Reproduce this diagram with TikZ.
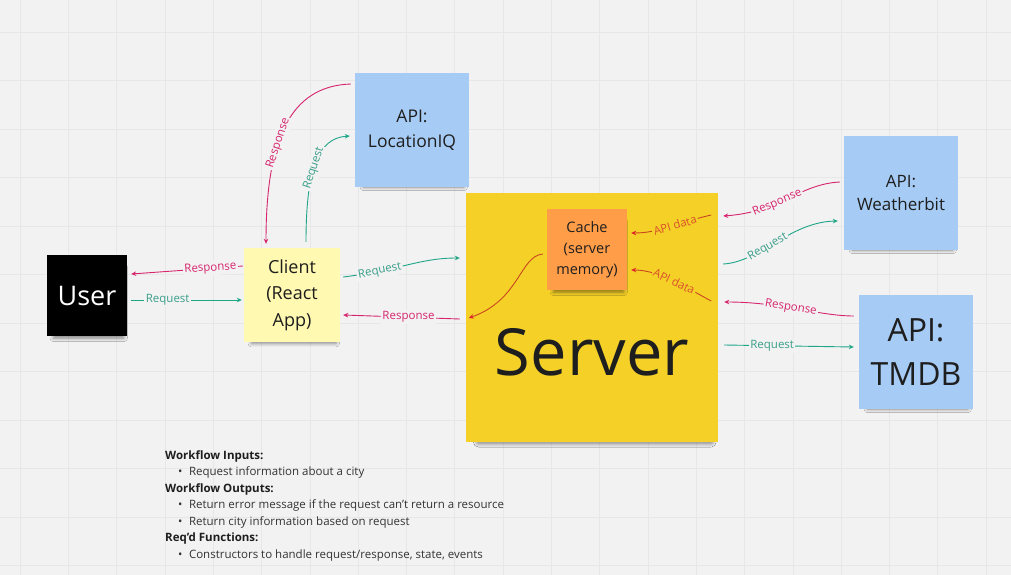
\documentclass[tikz,border=0pt]{standalone}
\usepackage{fontspec}
\setmainfont{Open Sans}
\usetikzlibrary{arrows.meta,shadows.blur}
\definecolor{bg}{HTML}{F2F2F2}
\definecolor{gridc}{HTML}{E7E7E7}
\definecolor{bluenote}{HTML}{A6CCF5}
\definecolor{palenote}{HTML}{FFF9B1}
\definecolor{yellownote}{HTML}{F5D128}
\definecolor{orangenote}{HTML}{FF9D48}
\definecolor{pinkc}{HTML}{D6246E}
\definecolor{greenc}{HTML}{1FA687}
\definecolor{greent}{HTML}{3A9E8A}
\definecolor{apic}{HTML}{C9471F}
\definecolor{apit}{HTML}{D9502A}
\definecolor{apitip}{HTML}{E0202A}
\definecolor{inkc}{HTML}{1E1E1E}
\definecolor{bodyc}{HTML}{333333}
\begin{document}
\begin{tikzpicture}[x=1pt,y=-1pt,
  sticky/.style={draw=none, align=center, inner sep=0pt, text=inkc,
    blur shadow={shadow xshift=2pt, shadow yshift=-8pt, shadow blur radius=4pt, shadow opacity=45, shadow scale=0.88}},
  gridline/.style={draw=gridc, line width=0.6pt},
  conn/.style={line width=0.9pt},
  tipS/.style={-{Stealth[length=5pt,width=4.5pt]}},
  resp/.style={conn, tipS, draw=pinkc},
  reqs/.style={conn, tipS, draw=greenc},
  apid/.style={conn, -{Stealth[length=5pt,width=4.5pt,color=apitip]}, draw=apic},
  lbl/.style={font=\fontsize{11.5}{13}\selectfont, inner sep=1.5pt, fill=bg},
  rlbl/.style={lbl, text=pinkc},
  glbl/.style={lbl, text=greent},
  albl/.style={lbl, text=apit, fill=yellownote},
  body/.style={font=\fontsize{11.5}{13}\selectfont, text=bodyc, anchor=base west, inner sep=0pt},
  head/.style={body, font=\fontsize{11.5}{13}\selectfont\bfseries, text=inkc}
]
\useasboundingbox (0,0) rectangle (1011,575);
\fill[bg] (0,0) rectangle (1011,575);
\foreach \i in {0,...,20} {\draw[gridline] (20+48.3*\i,0) -- (20+48.3*\i,575);}
\foreach \j in {0,...,11} {\draw[gridline] (0,32+48.5*\j) -- (1011,32+48.5*\j);}

% notes
\node[sticky, fill=black, text=white, minimum width=80pt, minimum height=81pt,
      font=\fontsize{27}{32}\selectfont] (user) at (87,295.5) {User};
\node[sticky, fill=palenote, minimum width=96pt, minimum height=94pt,
      font=\fontsize{18}{26.5}\selectfont] (client) at (292,295) {Client\\(React\\App)};
\node[sticky, fill=bluenote, minimum width=114pt, minimum height=114pt,
      font=\fontsize{17.5}{25}\selectfont] (locq) at (412,130) {API:\\LocationIQ};
\node[sticky, fill=yellownote, minimum width=252pt, minimum height=249pt,
      blur shadow={shadow xshift=3pt, shadow yshift=-11pt, shadow blur radius=6pt, shadow opacity=45, shadow scale=0.92}] (server) at (592,317) {};
\node[text=inkc, font=\fontsize{65}{70}\selectfont, inner sep=0pt] (servertxt) at (592,352) {Server};
\node[sticky, fill=orangenote, minimum width=80pt, minimum height=81pt,
      font=\fontsize{14.5}{21}\selectfont] (cache) at (587,249.5) {Cache\\(server\\memory)};
\node[sticky, fill=bluenote, minimum width=114pt, minimum height=114pt,
      font=\fontsize{17}{23.5}\selectfont] (wbit) at (901,193) {API:\\Weatherbit};
\node[sticky, fill=bluenote, minimum width=114pt, minimum height=114pt,
      font=\fontsize{32}{44}\selectfont] (tmdb) at (916,352) {API:\\TMDB};

% User <-> Client
\draw[reqs] ([shift={(4,4.5)}]user.east) -- node[glbl, pos=0.33] {Request} ([shift={(-2,5)}]client.west);
\draw[resp] ([shift={(-1,-29)}]client.west) -- node[rlbl, sloped, pos=0.29] {Response} ([shift={(4,-21.5)}]user.east);

% Client <-> Server
\draw[reqs] ([shift={(3,-18)}]client.east) .. controls +(57,-7) and +(-40,0) .. node[glbl, sloped, pos=0.25] {Request} ([shift={(-6,-59)}]server.west);
\draw[resp] ([shift={(-6,2)}]server.west) -- node[rlbl, pos=0.44] {Response} ([shift={(3,20)}]client.east);

% LocationIQ <-> Client
\draw[resp] ([shift={(-4,-46)}]locq.west) .. controls +(-61,2) and +(0,-104) .. node[rlbl, sloped, pos=0.6] {Response} ([shift={(-26,-4)}]client.north);
\draw[reqs] ([shift={(14,-6)}]client.north) .. controls +(0,-72) and +(-32,2) .. node[glbl, sloped, pos=0.45] {Request} ([shift={(-5,6)}]locq.west);

% Weatherbit <-> Server
\draw[resp] ([shift={(-4,-11)}]wbit.west) .. controls +(-40,2) and +(57,-4) .. node[rlbl, sloped, pos=0.6] {Response} ([shift={(5,-101)}]server.east);
\draw[reqs] ([shift={(5,-53)}]server.east) .. controls +(37,-2) and +(-48,1) .. node[glbl, sloped, pos=0.42] {Request} ([shift={(-6,28)}]wbit.west);

% TMDB <-> Server
\draw[resp] ([shift={(-5,-36)}]tmdb.west) .. controls +(-34,0) and +(56,0) .. node[rlbl, sloped, pos=0.55] {Response} ([shift={(6,-15)}]server.east);
\draw[reqs] ([shift={(6,28)}]server.east) -- node[glbl, pos=0.37] {Request} ([shift={(-5,-5)}]tmdb.west);

% API data into cache
\draw[apid] ([shift={(-7,-102)}]server.east) .. controls +(-31,7) and +(29,0) .. node[albl, sloped, pos=0.44] {API data} ([shift={(4,-16.5)}]cache.east);
\draw[apid] ([shift={(-7,-16)}]server.east) .. controls +(-21,-11) and +(29,0) .. node[albl, sloped, pos=0.5] {API data} ([shift={(4,20.5)}]cache.east);

% cache -> server
\draw[apid] ([shift={(-4,4.5)}]cache.west) .. controls +(-23,2) and +(51,-18) .. ([shift={(3,1)}]server.west);

% text block
\node[head] (t1) at (165,459) {Workflow Inputs:};
\node[body] (t2) at (178,475) {•\hspace{6.5pt}Request information about a city};
\node[head] (t3) at (165,492) {Workflow Outputs:};
\node[body] (t4) at (178,508) {•\hspace{6.5pt}Return error message if the request can't return a resource};
\node[body] (t5) at (178,525) {•\hspace{6.5pt}Return city information based on request};
\node[head] (t6) at (165,541) {Req'd Functions:};
\node[body] (t7) at (178,558) {•\hspace{6.5pt}Constructors to handle request/response, state, events};
\end{tikzpicture}
\end{document}
